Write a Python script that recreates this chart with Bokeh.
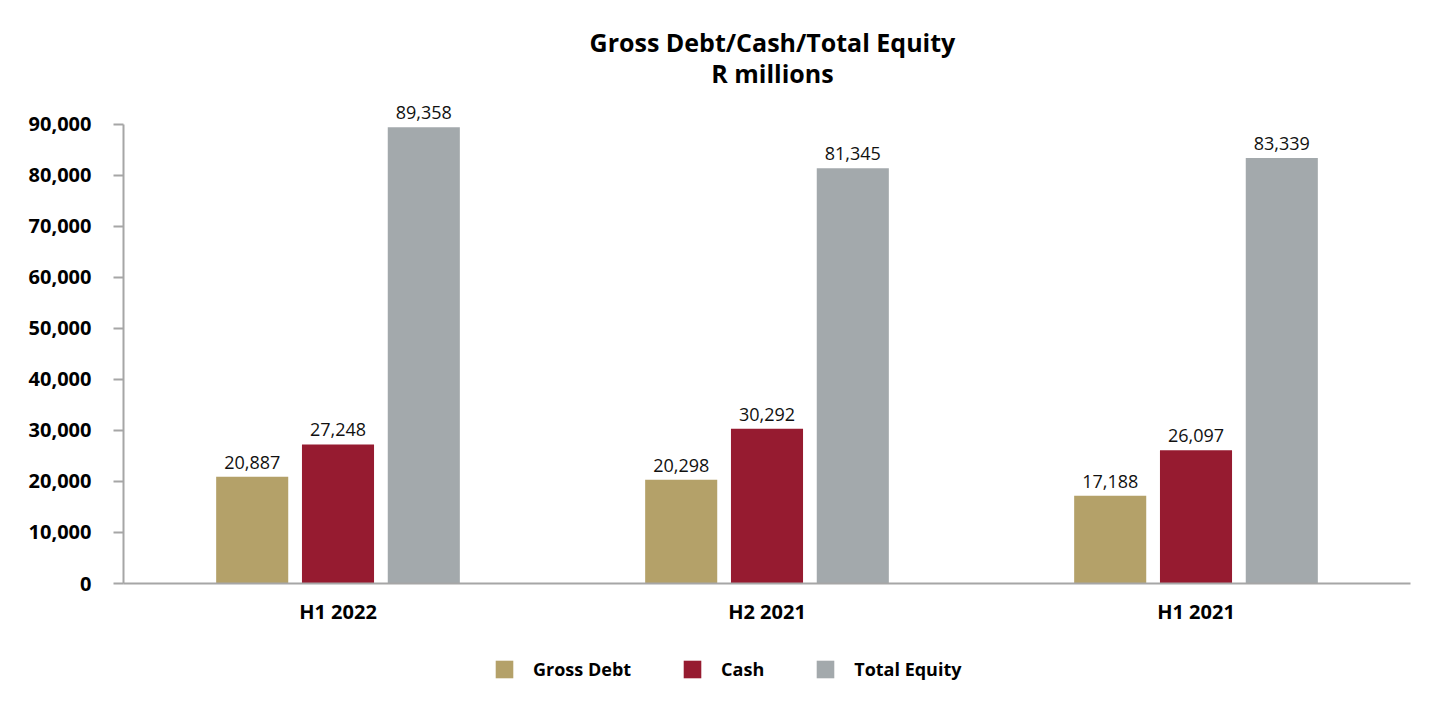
from bokeh.plotting import figure
from bokeh.layouts import column
from bokeh.models import (FactorRange, Range1d, FixedTicker, NumeralTickFormatter,
                          Legend, LegendItem, Label, ColumnDataSource)
from bokeh.transform import dodge
from bokeh.core.properties import value
from bokeh.embed import file_html
from bokeh.resources import INLINE

categories = ["H1 2022", "H2 2021", "H1 2021"]
series = ["Gross Debt", "Cash", "Total Equity"]
gross_debt = [20887, 20298, 17188]
cash = [27248, 30292, 26097]
total_equity = [89358, 81345, 83339]
y_ticks = [0, 10000, 20000, 30000, 40000, 50000, 60000, 70000, 80000, 90000]
title_lines = ["Gross Debt/Cash/Total Equity", "R millions"]

colors = ["#B4A169", "#961B30", "#A3A9AC"]
offsets = [-0.2, 0.0, 0.2]
FONT = "Open Sans"
W = 1424


def strip(h):
    f = figure(width=W, height=h, output_backend="svg", toolbar_location=None,
               x_axis_location=None, y_axis_location=None,
               x_range=Range1d(0, W), y_range=Range1d(0, h), min_border=0)
    f.outline_line_color = None
    f.xgrid.grid_line_color = None
    f.ygrid.grid_line_color = None
    return f


# title strip
p0 = strip(90)
for line, ypos in zip(title_lines, [49, 18]):
    p0.add_layout(Label(x=718, y=ypos, text=line, text_align="center",
                        text_baseline="middle", text_font=FONT,
                        text_font_size="25px", text_font_style="bold",
                        text_color="#000000"))

# main chart
p = figure(width=W, height=550, output_backend="svg", toolbar_location=None,
           x_range=FactorRange(*categories), y_range=Range1d(0, 95000),
           min_border_left=123, min_border_right=14, min_border_top=8,
           min_border_bottom=57)
p.outline_line_color = None
p.xgrid.grid_line_color = None
p.ygrid.grid_line_color = None

src = ColumnDataSource(dict(cat=categories, gd=gross_debt, cs=cash, te=total_equity,
                            gd_t=[f"{v:,}" for v in gross_debt],
                            cs_t=[f"{v:,}" for v in cash],
                            te_t=[f"{v:,}" for v in total_equity]))

for col, tcol, color, off in zip(["gd", "cs", "te"], ["gd_t", "cs_t", "te_t"],
                                 colors, offsets):
    p.vbar(x=dodge("cat", off, range=p.x_range), top=col, width=0.168,
           source=src, fill_color=color, line_color=None)
    p.text(x=dodge("cat", off, range=p.x_range), y=col, text=tcol, source=src,
           text_align="center", text_baseline="bottom", y_offset=-8,
           text_font=value(FONT), text_font_size="18px", text_color="#111111")

yax = p.yaxis[0]
yax.ticker = FixedTicker(ticks=y_ticks)
yax.formatter = NumeralTickFormatter(format="0,0")
yax.bounds = (0, 90000)
yax.axis_line_color = "#A6A6A6"
yax.axis_line_width = 2
yax.major_tick_line_color = "#A6A6A6"
yax.major_tick_line_width = 2
yax.major_tick_out = 10
yax.major_tick_in = 0
yax.minor_tick_line_color = None
yax.major_label_standoff = 22
yax.major_label_text_font = FONT
yax.major_label_text_font_style = "bold"
yax.major_label_text_font_size = "20px"
yax.major_label_text_color = "#000000"

xax = p.xaxis[0]
xax.axis_line_color = "#A6A6A6"
xax.axis_line_width = 2
xax.major_tick_line_color = None
xax.major_tick_out = 0
xax.major_tick_in = 0
xax.major_label_standoff = 14
xax.major_label_text_font = FONT
xax.major_label_text_font_style = "bold"
xax.major_label_text_font_size = "20px"
xax.major_label_text_color = "#000000"

# legend strip
p2 = strip(64)
items = []
for name, color in zip(series, colors):
    # off-screen proxy glyph used only for the legend swatch
    r = p2.vbar(x=[10], top=[-20], bottom=[-30], width=5,
                fill_color=color, line_color=None)
    items.append(LegendItem(label=name, renderers=[r]))
legend = Legend(items=items, orientation="horizontal", location=(370, 23),
                glyph_width=22, glyph_height=22, label_standoff=18, spacing=50,
                label_text_font=FONT, label_text_font_style="bold",
                label_text_font_size="18px", label_text_color="#000000",
                border_line_color=None, background_fill_alpha=0,
                margin=0, padding=6)
p2.add_layout(legend, "center")

open("out.html", "w").write(file_html(column(p0, p, p2, spacing=0), INLINE))
